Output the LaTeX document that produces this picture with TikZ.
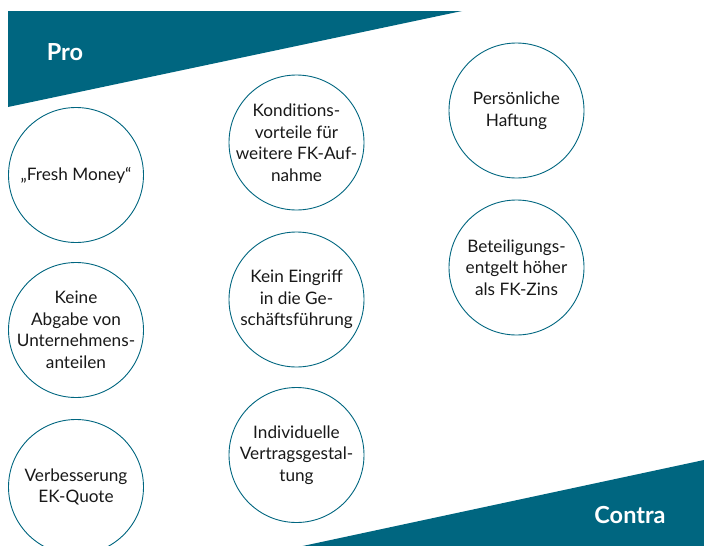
\documentclass[tikz,border=0pt]{standalone}
\usepackage{fontspec}
\setmainfont{Lato}
\definecolor{teal}{RGB}{0,102,128}
\tikzset{
  bubble/.style={circle, draw=teal, line width=0.9pt, minimum size=135pt, inner sep=0pt},
  bubbletext/.style={align=center, inner sep=0pt, font=\fontsize{17.2}{21.5}\selectfont, text=black!90},
  banner/.style={fill=teal, draw=none},
  bannertext/.style={text=white, font=\fontsize{23.5}{26}\bfseries\selectfont}
}
\begin{document}
\begin{tikzpicture}[x=1pt,y=-1pt]
\clip (0,0) rectangle (704,546);
\fill[white] (0,0) rectangle (704,546);
% banners
\fill[banner] (8,11) -- (462,11) -- (8,107) -- cycle;
\fill[banner] (298,547) -- (704,460) -- (704,547) -- cycle;
\node[bannertext] (pro) at (65,52) {Pro};
\node[bannertext] (contra) at (630,515) {Contra};
% left column
\node[bubble] (c1) at (76,175) {};
\node[bubbletext] (t1) at (c1) {„Fresh Money“};
\node[bubble] (c2) at (76,330) {};
\node[bubbletext] (t2) at (c2) {Keine\\Abgabe von\\Unternehmens-\\anteilen};
\node[bubble] (c3) at (76,487) {};
\node[bubbletext] (t3) at (c3) {Verbesserung\\EK-Quote};
% middle column
\node[bubble] (c4) at (296.5,142.5) {};
\node[bubbletext] (t4) at (c4) {Konditions-\\vorteile für\\weitere FK-Auf-\\nahme};
\node[bubble] (c5) at (296.5,299.5) {};
\node[bubbletext] (t5) at (c5) {Kein Eingriff\\in die Ge-\\schäftsführung};
\node[bubble] (c6) at (296.5,455) {};
\node[bubbletext] (t6) at (c6) {Individuelle\\Vertragsgestal-\\tung};
% right column
\node[bubble] (c7) at (516.5,110.5) {};
\node[bubbletext] (t7) at (c7) {Persönliche\\Haftung};
\node[bubble] (c8) at (516.5,267.5) {};
\node[bubbletext] (t8) at (c8) {Beteiligungs-\\entgelt höher\\als FK-Zins};
\end{tikzpicture}
\end{document}
